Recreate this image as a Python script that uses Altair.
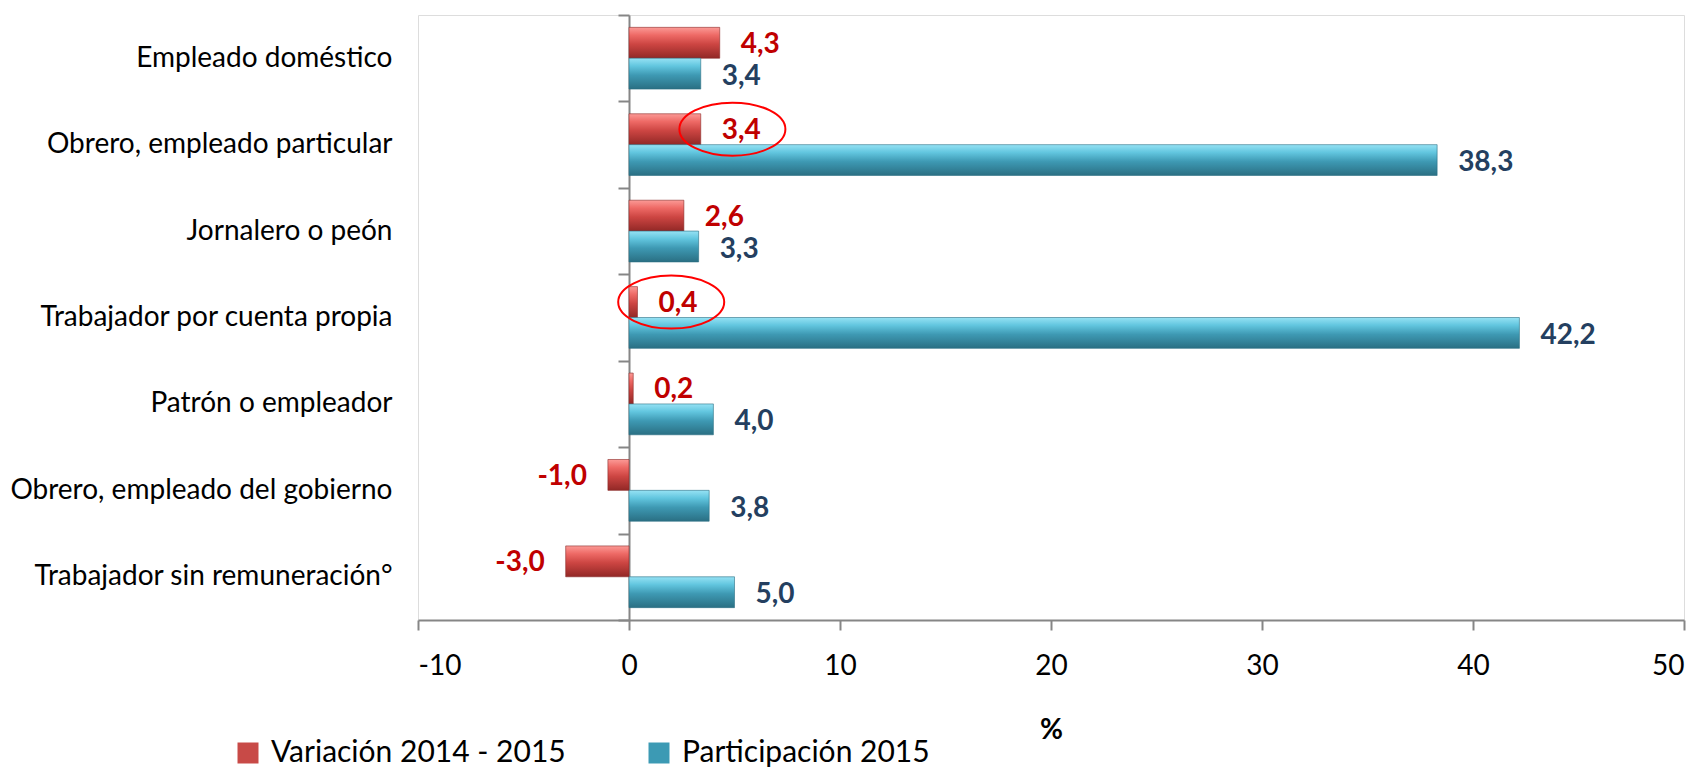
import altair as alt
import pandas as pd

categorias = [
    "Empleado doméstico",
    "Obrero, empleado particular",
    "Jornalero o peón",
    "Trabajador por cuenta propia",
    "Patrón o empleador",
    "Obrero, empleado del gobierno",
    "Trabajador sin remuneración°",
]
variacion = [4.3, 3.4, 2.6, 0.4, 0.2, -1.0, -3.0]
participacion = [3.4, 38.3, 3.3, 42.2, 4.0, 3.8, 5.0]
series = ["Variación 2014 - 2015", "Participación 2015"]
ticks_x = [-10, 0, 10, 20, 30, 40, 50]

# annotation ellipses (red circles in the original)
anot_cat = ["Obrero, empleado particular", "Trabajador por cuenta propia"]
anot_x = [4.9, 2.0]

rows = []
for c, v, p in zip(categorias, variacion, participacion):
    rows.append({"cat": c, "serie": series[0], "valor": v})
    rows.append({"cat": c, "serie": series[1], "valor": p})
df = pd.DataFrame(rows)
ann = pd.DataFrame({"cat": anot_cat, "valor": anot_x, "serie": [series[0]] * len(anot_cat)})

FONT = "Lato"
AXIS_GRAY = "#868686"
RED_TXT = "#C00000"
BLUE_TXT = "#243F60"

W, H = 1266, 605

x_enc = alt.X(
    "valor:Q",
    scale=alt.Scale(domain=[-10, 50], nice=False, zero=True),
    axis=alt.Axis(
        values=ticks_x, title="%", grid=False,
        domainColor=AXIS_GRAY, domainWidth=2, tickColor=AXIS_GRAY, tickWidth=2, tickSize=10,
        labelFont=FONT, labelFontSize=28, labelColor="#000000", labelPadding=22,
        titleFont=FONT, titleFontSize=28, titleFontWeight="bold", titleColor="#000000",
        titlePadding=36, labelExpr="toString(datum.value)",
    ),
)
y_enc = alt.Y(
    "cat:N", sort=categorias,
    scale=alt.Scale(domain=categorias, paddingInner=0, paddingOuter=0),
    axis=alt.Axis(
        title=None, offset=-W / 6, tickBand="extent", tickSize=11, tickWidth=2,
        tickColor=AXIS_GRAY, domainColor=AXIS_GRAY, domainWidth=2,
        labelPadding=W / 6 + 26 - 11, labelLimit=1000,
        labelFont=FONT, labelFontSize=28, labelColor="#000000", grid=False,
    ),
)
yoff = alt.YOffset(
    "serie:N", sort=series,
    scale=alt.Scale(domain=series, paddingInner=0, paddingOuter=0.4),
)

red_grad = alt.Gradient(
    gradient="linear", x1=0, x2=0, y1=0, y2=1,
    stops=[
        alt.GradientStop(color="#fb9a96", offset=0),
        alt.GradientStop(color="#ee6a66", offset=0.25),
        alt.GradientStop(color="#cc4542", offset=0.55),
        alt.GradientStop(color="#922826", offset=1),
    ],
)
blue_grad = alt.Gradient(
    gradient="linear", x1=0, x2=0, y1=0, y2=1,
    stops=[
        alt.GradientStop(color="#96e2f4", offset=0),
        alt.GradientStop(color="#62c6df", offset=0.25),
        alt.GradientStop(color="#3e99b3", offset=0.55),
        alt.GradientStop(color="#2a6f83", offset=1),
    ],
)

base = alt.Chart(df).transform_calculate(
    etiqueta="replace(replace(format(datum.valor, '.1f'), '.', ','), '\u2212', '-')"
)

bars_red = base.transform_filter(alt.datum.serie == series[0]).mark_bar(
    fill=red_grad, stroke="#8a2a28", strokeWidth=0.6
).encode(x=x_enc, y=y_enc, yOffset=yoff)

bars_blue = base.transform_filter(alt.datum.serie == series[1]).mark_bar(
    fill=blue_grad, stroke="#2a6f83", strokeWidth=0.6
).encode(x=x_enc, y=y_enc, yOffset=yoff)

txt_red_pos = base.transform_filter(
    (alt.datum.serie == series[0]) & (alt.datum.valor >= 0)
).mark_text(
    align="left", baseline="middle", dx=21, dy=2,
    font=FONT, fontSize=28, fontWeight="bold", color=RED_TXT,
).encode(x=x_enc, y=y_enc, yOffset=yoff, text="etiqueta:N")

txt_red_neg = base.transform_filter(
    (alt.datum.serie == series[0]) & (alt.datum.valor < 0)
).mark_text(
    align="right", baseline="middle", dx=-21, dy=2,
    font=FONT, fontSize=28, fontWeight="bold", color=RED_TXT,
).encode(x=x_enc, y=y_enc, yOffset=yoff, text="etiqueta:N")

txt_blue = base.transform_filter(alt.datum.serie == series[1]).mark_text(
    align="left", baseline="middle", dx=21, dy=3,
    font=FONT, fontSize=28, fontWeight="bold", color=BLUE_TXT,
).encode(x=x_enc, y=y_enc, yOffset=yoff, text="etiqueta:N")

ellipse_path = "M -1 0 A 1 0.5 0 1 1 1 0 A 1 0.5 0 1 1 -1 0 Z"
elipses = alt.Chart(ann).mark_point(
    shape=ellipse_path, size=106 * 106, filled=False, stroke="#FF0000", strokeWidth=2, opacity=1,
).encode(x=x_enc, y=y_enc, yOffset=yoff)

leyenda = alt.Chart(df).mark_square(opacity=0, size=10).encode(
    color=alt.Color(
        "serie:N", sort=series,
        scale=alt.Scale(domain=series, range=["#c84a47", "#3c9ab4"]),
        legend=alt.Legend(
            title=None, orient="none", legendX=-185, legendY=723, direction="horizontal",
            symbolType="square", symbolSize=441, symbolOpacity=1, symbolStrokeWidth=0,
            labelFont=FONT, labelFontSize=30, labelColor="#000000", labelLimit=1000,
            labelOffset=8, columnPadding=78,
        ),
    )
)

chart = alt.layer(
    bars_red, bars_blue, elipses, txt_red_pos, txt_red_neg, txt_blue, leyenda
).properties(
    width=W, height=H,
    padding={"left": 410, "top": 7, "right": 12, "bottom": 154},
    autosize=alt.AutoSizeParams(type="none"),
).configure_view(stroke=None).configure(background="#ffffff")

chart.save("out.html", embed_options={"renderer": "svg", "actions": False})
